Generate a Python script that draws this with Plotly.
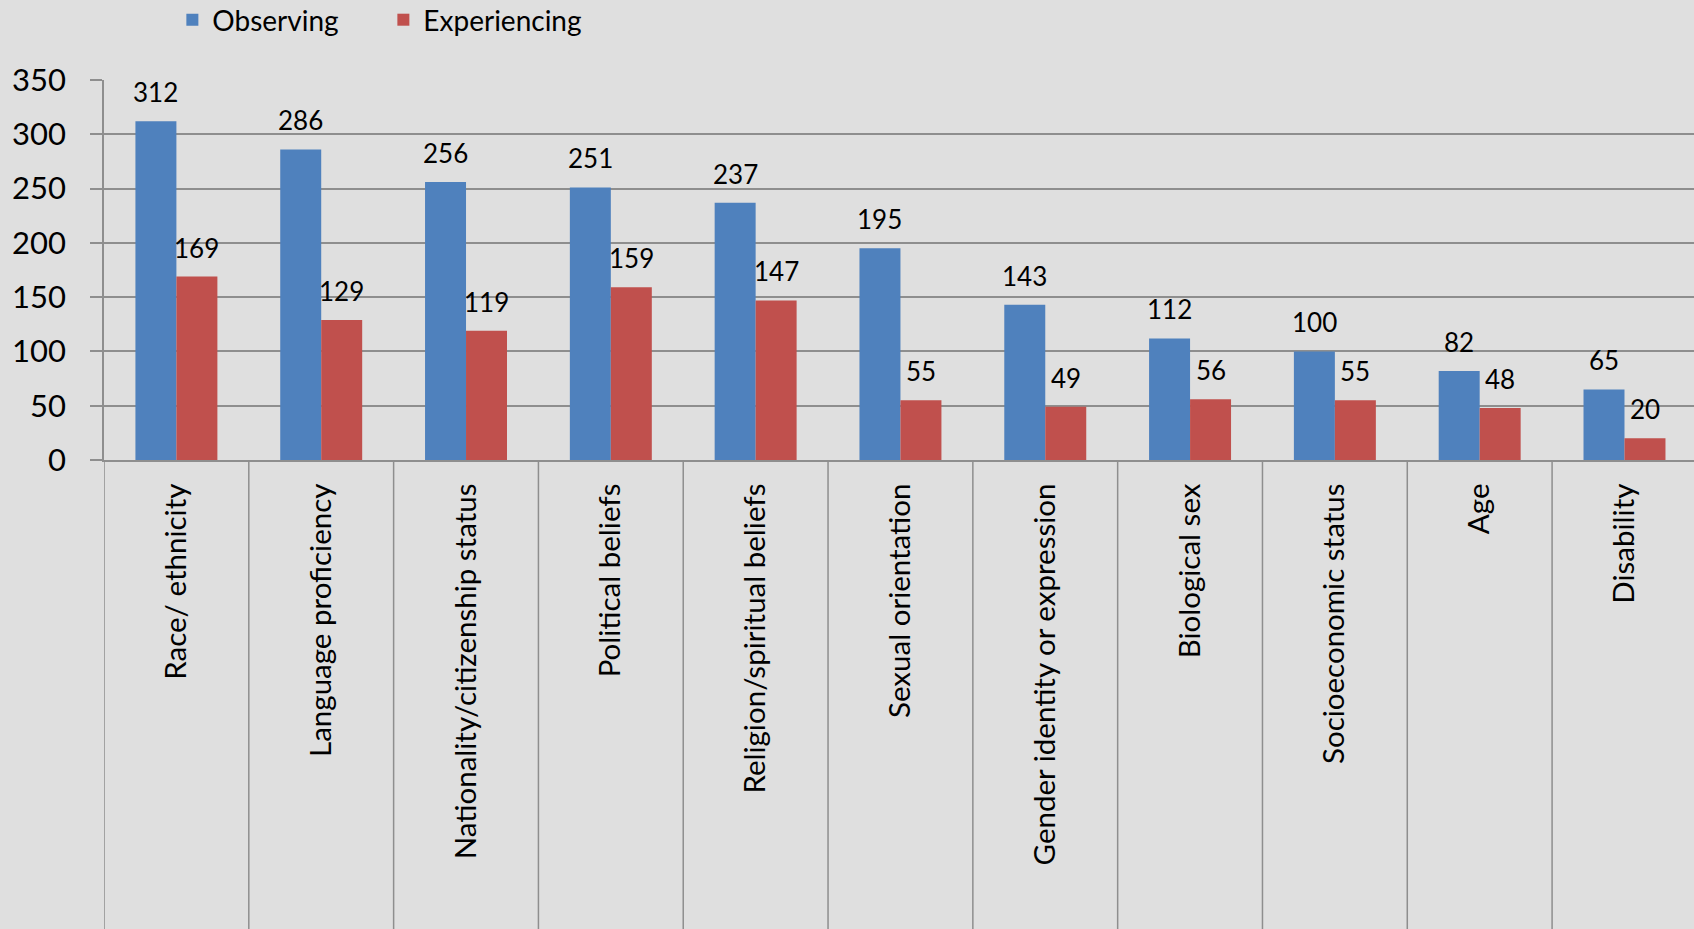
import plotly.graph_objects as go

categories = [
    "Race/ ethnicity",
    "Language proficiency",
    "Nationality/citizenship status",
    "Political beliefs",
    "Religion/spiritual beliefs",
    "Sexual orientation",
    "Gender identity or expression",
    "Biological sex",
    "Socioeconomic status",
    "Age",
    "Disability",
]
observing = [312, 286, 256, 251, 237, 195, 143, 112, 100, 82, 65]
experiencing = [169, 129, 119, 159, 147, 55, 49, 56, 55, 48, 20]

BLUE = "#4f81bd"
RED = "#c0504d"
GRID = "#8e8e8e"
BG = "#dfdfdf"
FONT = "Lato"

W, H = 1694, 929
ML, MT, MB = 104, 80, 469
BARGAP = 0.434
bar_w = (1 - BARGAP) / 2

fig = go.Figure()
fig.add_trace(go.Bar(name="Observing", x=categories, y=observing,
                     marker=dict(color=BLUE, line=dict(width=0))))
fig.add_trace(go.Bar(name="Experiencing", x=categories, y=experiencing,
                     marker=dict(color=RED, line=dict(width=0))))

# value labels above each bar
annotations = []
for i, (o, e) in enumerate(zip(observing, experiencing)):
    for val, dx in ((o, -bar_w / 2), (e, bar_w / 2)):
        annotations.append(dict(
            x=i + dx, y=val, xref="x", yref="y", text=str(val),
            showarrow=False, yanchor="bottom", yshift=11,
            font=dict(family=FONT, size=26, color="black"),
        ))

# category separators running down through the label area
plot_h = H - MT - MB
shapes = []
for i in range(len(categories)):
    shapes.append(dict(
        type="line", xref="x", yref="paper",
        x0=i - 0.5, x1=i - 0.5, y0=0, y1=-(MB + 5) / plot_h,
        line=dict(color=GRID, width=1.5), layer="above",
    ))

fig.update_layout(
    width=W, height=H,
    margin=dict(l=ML, r=0, t=MT, b=MB, pad=0, autoexpand=False),
    paper_bgcolor=BG, plot_bgcolor=BG,
    barmode="group", bargap=BARGAP, bargroupgap=0,
    font=dict(family=FONT, color="black"),
    legend=dict(
        orientation="h", x=0.043, xanchor="left", y=1 + (MT - 20) / plot_h,
        yanchor="middle", font=dict(family=FONT, size=28, color="black"),
        bgcolor="rgba(0,0,0,0)", entrywidth=166, entrywidthmode="pixels",
    ),
    annotations=annotations,
    shapes=shapes,
    xaxis=dict(
        type="category", range=[-0.5, 10.48],
        tickangle=-90, tickfont=dict(family=FONT, size=29.5, color="black"),
        showline=True, linecolor=GRID, linewidth=1.5,
        showgrid=False, ticks="", ticklabelstandoff=10,
    ),
    yaxis=dict(
        range=[0, 350], dtick=50, tick0=0,
        tickfont=dict(family=FONT, size=31, color="black"),
        showgrid=True, gridcolor=GRID, gridwidth=1.5,
        zeroline=False, showline=True, linecolor=GRID, linewidth=1.5,
        ticks="outside", ticklen=12, tickcolor=GRID, tickwidth=1.5,
        ticklabelstandoff=18,
    ),
)

fig.write_html("out.html")
